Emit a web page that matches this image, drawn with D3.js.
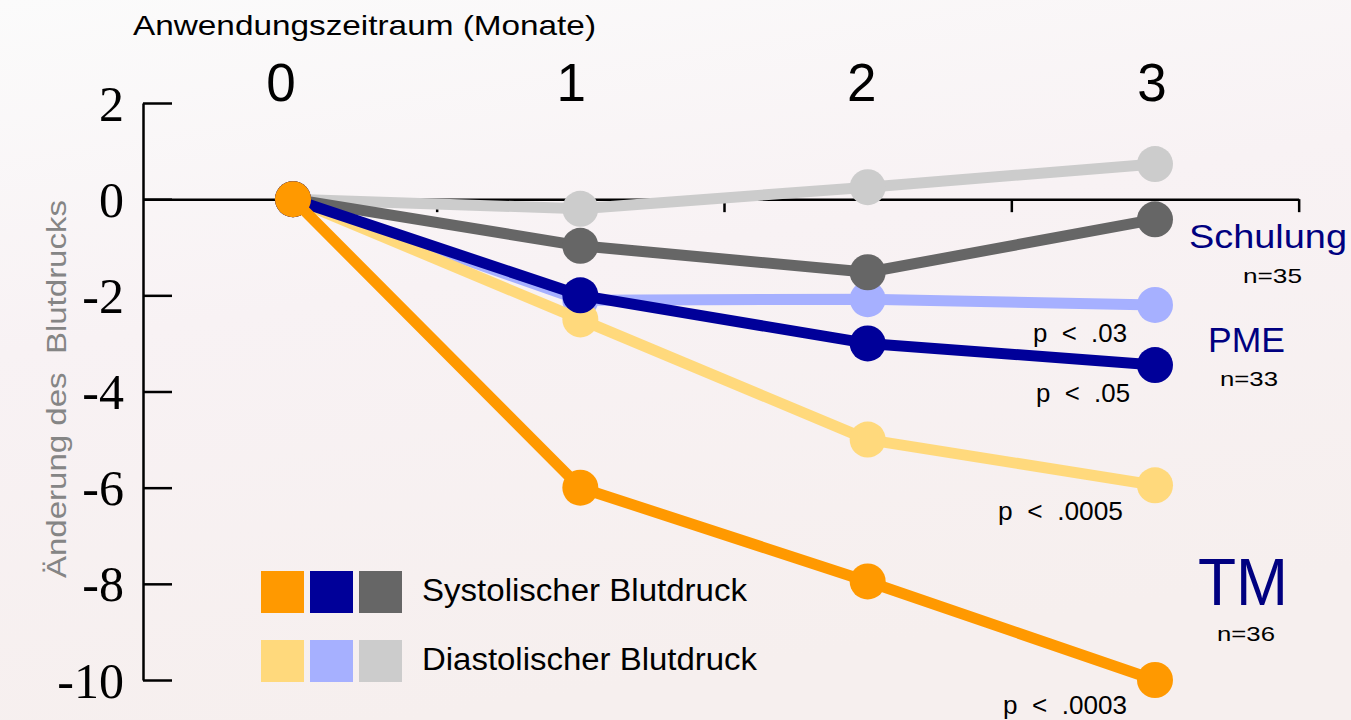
<!DOCTYPE html>
<html>
<head>
<meta charset="utf-8">
<script src="https://cdn.jsdelivr.net/npm/d3@7"></script>
<style>
  html, body { margin: 0; padding: 0; }
  body { width: 1351px; height: 720px; overflow: hidden; }
  text { font-family: "Liberation Sans", Arial, sans-serif; }
</style>
</head>
<body>
<div id="chart"></div>
<script>
// months on the x axis
var months = [0, 1, 2, 3];
var monthLabels = ["0", "1", "2", "3"];
var yTicks = [2, 0, -2, -4, -6, -8, -10];

// change in blood pressure per group
var tmSys = [0, -6, -7.95, -10];
var tmDia = [0, -2.5, -5, -5.95];
var pmeSys = [0, -2, -3, -3.45];
var pmeDia = [0, -2.1, -2.08, -2.2];
var schulSys = [0, -0.97, -1.52, -0.42];
var schulDia = [0, -0.2, 0.25, 0.73];

var groupNames = ["Schulung", "PME", "TM"];
var groupN = ["n=35", "n=33", "n=36"];
var pLabels = ["p  <  .03", "p  <  .05", "p  <  .0005", "p  <  .0003"];
var legendLabels = ["Systolischer Blutdruck", "Diastolischer Blutdruck"];

var colors = {
    tmSys: "#ff9900", pmeSys: "#000099", schulSys: "#666666",
    tmDia: "#ffd97c", pmeDia: "#a6b0ff", schulDia: "#cccccc"
};

// draw order: light ones first, orange on top
var series = [
    { key: "schulDia", values: schulDia },
    { key: "pmeDia", values: pmeDia },
    { key: "tmDia", values: tmDia },
    { key: "schulSys", values: schulSys },
    { key: "pmeSys", values: pmeSys },
    { key: "tmSys", values: tmSys }
];

var W = 1351, H = 720;

var svg = d3.select("#chart")
    .append("svg")
    .attr("width", W)
    .attr("height", H);

// faint washed-out background
var defs = svg.append("defs");
var bg = defs.append("linearGradient").attr("id", "bg")
    .attr("x1", 0).attr("y1", 0).attr("x2", 0.3).attr("y2", 1);
bg.append("stop").attr("offset", 0).attr("stop-color", "#fbfbfb");
bg.append("stop").attr("offset", 0.45).attr("stop-color", "#f8f2f4");
bg.append("stop").attr("offset", 1).attr("stop-color", "#f6efee");
svg.append("rect").attr("width", W).attr("height", H).attr("fill", "url(#bg)");

// the slide text is a bit wider than the font, so fit it to a width
function label(x, y, str, size, width, color, anchor) {
    var t = svg.append("text")
        .attr("x", x).attr("y", y)
        .attr("xml:space", "preserve")
        .style("font-size", size + "px")
        .attr("fill", color || "#000")
        .text(str);
    if (anchor) t.attr("text-anchor", anchor);
    if (width) t.attr("textLength", width).attr("lengthAdjust", "spacingAndGlyphs");
    return t;
}

var x = d3.scaleLinear().domain([0, 3]).range([293, 1155]);
var y = d3.scaleLinear().domain([2, -10]).range([103, 680]);
var xTop = d3.scaleLinear().domain([0, 3]).range([281, 1152]);

var axisX = 143;

// y axis
var yAxis = d3.axisLeft(y)
    .tickValues(yTicks)
    .tickSizeInner(-29)
    .tickSizeOuter(0)
    .tickPadding(19)
    .tickFormat(function (d) { return d < 0 ? "-" + Math.abs(d) : d; });

var gy = svg.append("g")
    .attr("transform", "translate(" + axisX + ",0)")
    .call(yAxis);
gy.select(".domain").attr("stroke", "#000").attr("stroke-width", 2.5);
gy.selectAll(".tick line").attr("stroke", "#000").attr("stroke-width", 2.5);
gy.selectAll(".tick text")
    .style("font-family", "'Liberation Serif', 'Times New Roman', serif")
    .style("font-size", "50px")
    .attr("fill", "#000")
    .attr("dy", "0.34em");

// x axis along zero, ticks between months
var xAxisScale = d3.scaleLinear()
    .domain([x.invert(axisX), 3.5])
    .range([axisX, x(3.5)]);
var xAxis = d3.axisBottom(xAxisScale)
    .tickValues([0.5, 1.5, 2.5, 3.5])
    .tickSizeInner(13)
    .tickSizeOuter(0)
    .tickFormat("");
var gx = svg.append("g")
    .attr("transform", "translate(0," + y(0) + ")")
    .call(xAxis);
gx.select(".domain").attr("stroke", "#000").attr("stroke-width", 2.5);
gx.selectAll(".tick line").attr("stroke", "#000").attr("stroke-width", 2.5);

// month labels on top
svg.selectAll(".month")
    .data(months)
    .enter().append("text")
    .attr("class", "month")
    .attr("x", function (d) { return xTop(d); })
    .attr("y", 101)
    .attr("text-anchor", "middle")
    .style("font-size", "53px")
    .attr("fill", "#000")
    .text(function (d, i) { return monthLabels[i]; });

label(133, 35, "Anwendungszeitraum (Monate)", 28, 463);

// y axis title
svg.append("text")
    .attr("transform", "translate(66,389) rotate(-90)")
    .attr("text-anchor", "middle")
    .attr("xml:space", "preserve")
    .style("font-size", "27px")
    .attr("fill", "#858585")
    .attr("textLength", 378)
    .attr("lengthAdjust", "spacingAndGlyphs")
    .text("Änderung des  Blutdrucks");

// lines and points
var line = d3.line()
    .x(function (d, i) { return x(months[i]); })
    .y(function (d) { return y(d); });

series.forEach(function (s) {
    var g = svg.append("g");
    g.append("path")
        .datum(s.values)
        .attr("fill", "none")
        .attr("stroke", colors[s.key])
        .attr("stroke-width", 11)
        .attr("stroke-linejoin", "round")
        .attr("d", line);
    g.selectAll("circle")
        .data(s.values)
        .enter().append("circle")
        .attr("cx", function (d, i) { return x(months[i]); })
        .attr("cy", function (d) { return y(d); })
        .attr("r", 18)
        .attr("fill", colors[s.key]);
});

// group labels at the right
var groupPos = [[1189, 248, 33, 158], [1208, 352, 35, 77], [1198, 605, 67, 90]];
var nPos = [[1243, 283, 59], [1220, 386, 58], [1217, 641, 58]];
groupNames.forEach(function (name, i) {
    var g = groupPos[i];
    label(g[0], g[1], name, g[2], g[3], "#000080");
    label(nPos[i][0], nPos[i][1], groupN[i], 21, nPos[i][2]);
});

// p values under the last points
var pPos = [[1033, 342, 94], [1036, 402, 94], [998, 520, 125], [1003, 714, 124]];
pLabels.forEach(function (p, i) {
    label(pPos[i][0], pPos[i][1], p, 25, pPos[i][2]);
});

// legend
var legendRows = [
    ["tmSys", "pmeSys", "schulSys"],
    ["tmDia", "pmeDia", "schulDia"]
];
var legendWidths = [325, 335];
legendRows.forEach(function (row, r) {
    var ly = 571 + r * 69;
    row.forEach(function (k, j) {
        svg.append("rect")
            .attr("x", 261 + j * 49)
            .attr("y", ly)
            .attr("width", 43)
            .attr("height", 42)
            .attr("fill", colors[k]);
    });
    label(422, ly + 30, legendLabels[r], 31, legendWidths[r]);
});
</script>
</body>
</html>
